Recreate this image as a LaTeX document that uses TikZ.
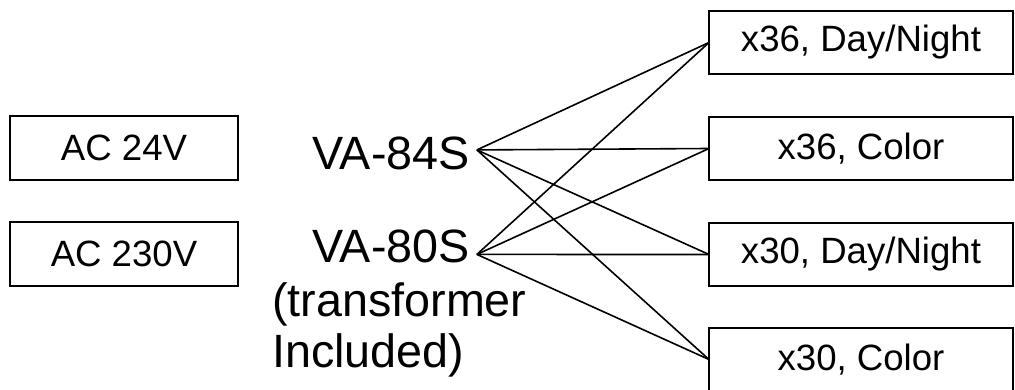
\documentclass[tikz,border=0pt]{standalone}
\usepackage{fontspec}
\setmainfont{Liberation Sans}
\usetikzlibrary{positioning}

\begin{document}
\begin{tikzpicture}[x=1pt, y=-1pt,
  every node/.style={font=\fontsize{36.6}{40}\selectfont},
  box/.style={draw, line width=2pt, inner sep=0pt, outer sep=0pt, align=center},
  src/.style={box, minimum width=228pt, minimum height=64pt},
  cam/.style={box, minimum width=304pt, minimum height=63pt},
  big/.style={font=\fontsize{46.7}{51}\selectfont, inner sep=0pt},
  wire/.style={line width=1.6pt, line join=round}
]
  \useasboundingbox (0,0) rectangle (1015,390);
  \node[src] (ac24) at (124,148) {AC 24V};
  \node[src, below=42pt of ac24] (ac230) {AC 230V};
  \node[big, anchor=base west] (va84) at (312,170) {VA-84S};
  \node[big, anchor=base west] (va80) at (312,262) {VA-80S};
  % base of a two-line node is its last line
  \node[big, anchor=base west, align=left] (note) at (272,367) {(transformer\\Included)};
  \node[cam] (c1) at (861,42.5) {x36, Day/Night};
  \node[cam, below=43pt of c1] (c2) {x36, Color};
  \node[cam, below=43pt of c2] (c3) {x30, Day/Night};
  \node[cam, below=42pt of c3] (c4) {x30, Color};
  \coordinate (j84) at ([xshift=7pt,yshift=4pt]va84.east);
  \coordinate (j80) at ([xshift=7pt,yshift=-8.5pt]va80.east);
  \draw[wire] (j84) -- (c1.west);
  \draw[wire] (j84) -- (c2.west);
  \draw[wire] (j84) -- (c3.west);
  \draw[wire] (j84) -- (c4.west);
  \draw[wire] (j80) -- (c1.west);
  \draw[wire] (j80) -- (c2.west);
  \draw[wire] (j80) -- (c3.west);
  \draw[wire] (j80) -- (c4.west);
\end{tikzpicture}
\end{document}
